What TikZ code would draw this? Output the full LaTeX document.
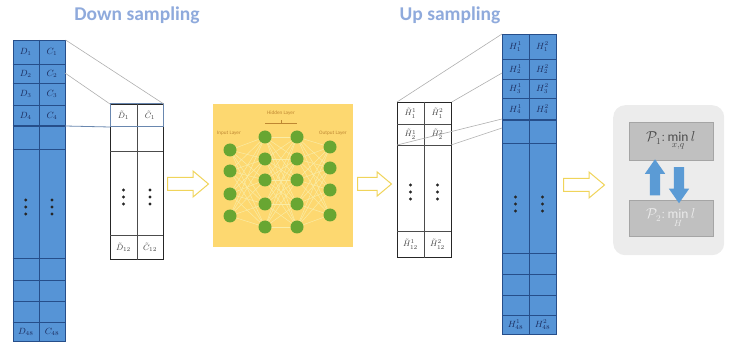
\documentclass[tikz,border=0pt]{standalone}
\usepackage{fontspec}
\setmainfont{Carlito}
\usetikzlibrary{shapes.arrows}
\definecolor{colfill}{RGB}{86,148,214}
\definecolor{colgrid}{RGB}{38,78,138}
\definecolor{headblue}{RGB}{143,170,220}
\definecolor{labnavy}{RGB}{28,45,95}
\definecolor{nnbg}{RGB}{253,216,112}
\definecolor{nngreen}{RGB}{104,166,50}
\definecolor{nnedge}{RGB}{250,236,165}
\definecolor{nntext}{RGB}{190,135,50}
\definecolor{arrowedge}{RGB}{240,212,90}
\definecolor{panelgray}{RGB}{236,236,236}
\definecolor{boxgray}{RGB}{192,192,192}
\definecolor{boxedge}{RGB}{165,165,165}
\definecolor{swapblue}{RGB}{91,155,213}
\definecolor{linkgray}{RGB}{175,175,175}
\definecolor{rowblue}{RGB}{105,135,175}
\begin{document}
\begin{tikzpicture}[x=1pt,y=-1pt,
  heading/.style={font=\fontsize{19.5}{22}\selectfont\bfseries, text=headblue, inner sep=0pt},
  bluecol/.style={draw=colgrid, line width=0.6pt, fill=colfill, inner sep=0pt, anchor=north west},
  whitetab/.style={draw=black!85, line width=0.8pt, fill=white, inner sep=0pt, anchor=north west},
  gridline/.style={draw=colgrid, line width=0.5pt},
  tabline/.style={draw=black!70, line width=0.6pt},
  celllab/.style={font=\fontsize{9}{10}\selectfont, text=labnavy, inner sep=0pt},
  tablab/.style={font=\fontsize{8.5}{9}\selectfont, text=black!75, inner sep=0pt},
  link/.style={draw=linkgray, line width=0.6pt},
  linkblue/.style={draw=rowblue, line width=0.8pt},
  flowarrow/.style={single arrow, draw=arrowedge, line width=1pt, fill=white,
    minimum height=41pt, minimum width=25pt, inner sep=6pt,
    single arrow head extend=6.5pt, single arrow tip angle=80, anchor=west},
  neuron/.style={circle, fill=nngreen, minimum size=13pt, inner sep=0pt},
  nnedges/.style={draw=nnedge, line width=0.5pt},
  nnlab/.style={font=\fontsize{5.2}{6}\selectfont, text=nntext, inner sep=0pt},
  swaparrow/.style={single arrow, fill=swapblue, draw=none, minimum height=36pt,
    minimum width=19pt, inner sep=5pt, single arrow head extend=5pt, single arrow tip angle=70},
  probbox/.style={fill=boxgray, draw=boxedge, line width=0.6pt, minimum width=84pt, inner sep=0pt}
]
\useasboundingbox (0,0) rectangle (738,347);

% ---------- headings ----------
\node[heading] (hdown) at (137,15) {Down sampling};
\node[heading] (hup) at (450,15) {Up sampling};

% ---------- full-resolution input column ----------
\node[bluecol, minimum width=52.5pt, minimum height=301pt] (dcol) at (12.5,40) {};
\foreach \y in {64,83,105,149,258,280,301,322}
  \draw[gridline] (12.5,\y) -- (65,\y);
\draw[gridline, line width=1.1pt] (12.5,126) -- (65,126);
\draw[gridline] (dcol.north) -- (dcol.south);
\foreach \i/\y in {1/52,2/73.5,3/94,4/115.5}{
  \node[celllab] (dl\i) at (25.75,\y) {$D_{\i}$};
  \node[celllab] (cl\i) at (52,\y) {$C_{\i}$};
}
\node[celllab] (dl48) at (25.75,331.5) {$D_{48}$};
\node[celllab] (cl48) at (52,331.5) {$C_{48}$};
\foreach \x in {25.75,52}
  \foreach \y in {200,207,214}
    \fill[black!85] (\x,\y) circle (1.6pt);

% ---------- down-sampled table ----------
\node[whitetab, minimum width=53pt, minimum height=155pt] (dtab) at (110,104) {};
\draw[tabline] (dtab.north) -- (dtab.south);
\foreach \y in {151,235}
  \draw[tabline] (110,\y) -- (163,\y);
\draw[rowblue, line width=1pt] (110,104) rectangle (163,127);
\node[tablab] (dt1) at (123.5,115.5) {$\tilde{D}_1$};
\node[tablab] (ct1) at (150,115.5) {$\tilde{C}_1$};
\node[tablab] (dt12) at (123.5,247) {$\tilde{D}_{12}$};
\node[tablab] (ct12) at (150,247) {$\tilde{C}_{12}$};
\foreach \x in {123.5,150}
  \foreach \y in {190,197,204}
    \fill[black!85] (\x,\y) circle (1.6pt);

% links between the column and the down-sampled table
\coordinate (dmid) at (65,73);
\coordinate (dfour) at (65,126);
\coordinate (dtrow) at (110,127);
\draw[link] (dcol.north east) -- (dtab.north east);
\draw[link] (dmid) -- (dtab.north west);
\draw[linkblue] (dfour) -- (dtrow);

% ---------- flow arrows ----------
\node[flowarrow] (arr1) at (167,184) {};
\node[flowarrow, minimum height=34pt, minimum width=23pt, single arrow head extend=5.5pt] (arr2) at (357,184) {};
\node[flowarrow] (arr3) at (563,185) {};

% ---------- neural network ----------
\node[fill=nnbg, minimum width=140pt, minimum height=143pt, inner sep=0pt, anchor=north west] (nnbox) at (213,104) {};
\foreach \i/\y in {1/150,2/171,3/194,4/216}
  \coordinate (pi\i) at (230,\y);
\foreach \i/\y in {1/137,2/159,3/180,4/204,5/227}{
  \coordinate (pa\i) at (265,\y);
  \coordinate (pb\i) at (297,\y);
}
\foreach \i/\y in {1/147,2/168,3/190,4/215}
  \coordinate (po\i) at (330,\y);
\foreach \i in {1,...,4}
  \foreach \j in {1,...,5}{
    \draw[nnedges] (pi\i) -- (pa\j);
    \draw[nnedges] (pb\j) -- (po\i);
  }
\foreach \i in {1,...,5}
  \foreach \j in {1,...,5}
    \draw[nnedges] (pa\i) -- (pb\j);
\foreach \i in {1,...,4}{
  \node[neuron] (in\i) at (pi\i) {};
  \node[neuron] (out\i) at (po\i) {};
}
\foreach \i in {1,...,5}{
  \node[neuron] (ha\i) at (pa\i) {};
  \node[neuron] (hb\i) at (pb\i) {};
}
\node[nnlab] (lin) at (229,133) {Input Layer};
\node[nnlab] (lhid) at (281,113) {Hidden Layer};
\node[nnlab] (lout) at (333,133) {Output Layer};
\draw[draw=nntext, line width=0.35pt] (265,123) -- (297,123) (281,123) -- (281,120.5);

% ---------- up-sampled table ----------
\node[whitetab, minimum width=54pt, minimum height=155pt] (utab) at (397,102) {};
\draw[tabline] (utab.north) -- (utab.south);
\foreach \y in {124,145,231}
  \draw[tabline] (397,\y) -- (451,\y);
\node[tablab] (uh11) at (410.5,113) {$\tilde{H}^1_1$};
\node[tablab] (uh12) at (437.5,113) {$\tilde{H}^2_1$};
\node[tablab] (uh21) at (410.5,134.5) {$\tilde{H}^1_2$};
\node[tablab] (uh22) at (437.5,134.5) {$\tilde{H}^2_2$};
\node[tablab] (uh121) at (410.5,244) {$\tilde{H}^1_{12}$};
\node[tablab] (uh122) at (437.5,244) {$\tilde{H}^2_{12}$};
\foreach \x in {410.5,437.5}
  \foreach \y in {185,192,199}
    \fill[black!85] (\x,\y) circle (1.6pt);

% ---------- full-resolution output column ----------
\node[bluecol, minimum width=54pt, minimum height=300pt] (ucol) at (502,34) {};
\foreach \y in {59,79,98,143,253,274,295,315}
  \draw[gridline] (502,\y) -- (556,\y);
\draw[gridline, line width=1.1pt] (502,120) -- (556,120);
\draw[gridline] (ucol.north) -- (ucol.south);
\foreach \i/\y in {1/46.5,2/69,3/88.5,4/109}{
  \node[celllab] (h1r\i) at (515.5,\y) {$H^1_{\i}$};
  \node[celllab] (h2r\i) at (542.5,\y) {$H^2_{\i}$};
}
\node[celllab] (h1r48) at (515.5,324.5) {$H^1_{48}$};
\node[celllab] (h2r48) at (542.5,324.5) {$H^2_{48}$};
\foreach \x in {515.5,542.5}
  \foreach \y in {197,204,211}
    \fill[black!85] (\x,\y) circle (1.6pt);

% links between the up-sampled table and the output column
\coordinate (umid) at (502,73);
\coordinate (ufour) at (502,119);
\coordinate (ufive) at (502,128);
\coordinate (utl) at (397,145);
\coordinate (utr) at (451,145);
\draw[link] (utab.north west) -- (ucol.north west);
\draw[link] (utab.north east) -- (umid);
\draw[link] (utl) -- (ufour);
\draw[link] (utr) -- (ufive);

% ---------- alternating optimisation panel ----------
\node[fill=panelgray, rounded corners=12pt, minimum width=111pt, minimum height=150pt, anchor=north west, inner sep=0pt] (panel) at (613,105) {};
\node[probbox, minimum height=38pt, anchor=north west, text=black!70] (p1) at (628.5,122)
  {\fontsize{13.5}{14}\selectfont$\mathcal{P}_1\colon \min\limits_{x,q} l$};
\node[probbox, minimum height=36pt, anchor=north west, text=white!92!black] (p2) at (628.5,200)
  {\fontsize{13.5}{14}\selectfont$\mathcal{P}_2\colon \min\limits_{H} l$};
\node[swaparrow, rotate=90] (upar) at (655,181) {};
\node[swaparrow, rotate=-90] (dnar) at (679,181.5) {};
\end{tikzpicture}
\end{document}
